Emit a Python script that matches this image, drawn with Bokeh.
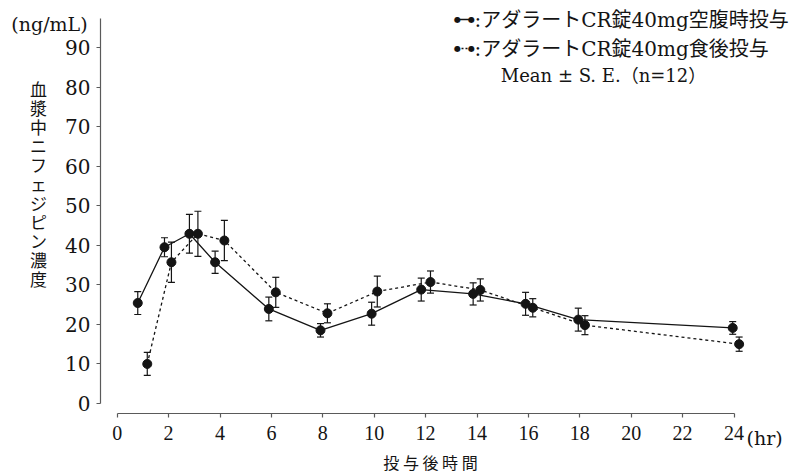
from bokeh.plotting import figure
from bokeh.models import (Range1d, FixedTicker, Whisker, ColumnDataSource, Label,
                          Arrow, TeeHead)
from bokeh.embed import file_html
from bokeh.resources import INLINE

# ---- data ----
fast_x = [0.80, 1.84, 2.81, 3.81, 5.90, 7.91, 9.90, 11.83, 13.85, 15.89, 17.94, 23.95]
fast_y = [25.4, 39.5, 42.9, 35.7, 23.9, 18.5, 22.7, 28.8, 27.7, 25.2, 21.2, 19.1]
fast_se = [2.9, 2.4, 4.9, 2.8, 3.0, 1.7, 2.9, 2.9, 2.8, 2.9, 2.9, 1.6]

fed_x = [1.17, 2.11, 3.14, 4.17, 6.17, 8.18, 10.12, 12.19, 14.13, 16.17, 18.20, 24.20]
fed_y = [10.0, 35.7, 42.9, 41.2, 28.1, 22.8, 28.3, 30.7, 28.7, 24.2, 19.8, 15.0]
fed_se = [2.9, 5.1, 5.7, 5.1, 3.8, 2.4, 3.9, 2.8, 2.8, 2.3, 2.4, 1.8]

x_ticks = [0, 2, 4, 6, 8, 10, 12, 14, 16, 18, 20, 22, 24]
y_ticks = [0, 10, 20, 30, 40, 50, 60, 70, 80, 90]

legend_fast = ":アダラートCR錠40mg空腹時投与"
legend_fed = ":アダラートCR錠40mg食後投与"
legend_note = "Mean ± S. E.（n=12）"
y_unit = "(ng/mL)"
y_title = "血漿中ニフェジピン濃度"
x_title = "投 与 後 時 間"
x_unit = "(hr)"

INK = "#141414"
AXIS = "#5a5a5a"
SERIF = "DejaVu Serif"
MIX = "DejaVu Serif, Noto Sans CJK JP"
CJK = "Noto Sans CJK JP"

W, H = 799, 475
# page-pixel geometry of the plot (x=0 h at 116.7px, 25.7 px per hour;
# y=0 at 403px, 3.956 px per ng/mL); frame covers the whole canvas
X0, XS = 116.7, 25.7
Y0, YS = 403.0, 3.956


def sx(px):
    return px


def sy(py):
    return H - py


p = figure(width=W, height=H, output_backend="svg", toolbar_location=None,
           x_range=Range1d(-X0 / XS, (W - X0) / XS),
           y_range=Range1d(-(H - Y0) / YS, Y0 / YS),
           min_border=0, min_border_left=0, min_border_right=0,
           min_border_top=0, min_border_bottom=0)
p.outline_line_color = None
p.xgrid.visible = False
p.ygrid.visible = False
p.background_fill_color = "white"
p.border_fill_color = "white"

for ax in (p.xaxis[0], p.yaxis[0]):
    ax.axis_line_color = AXIS
    ax.axis_line_width = 1.2
    ax.major_tick_line_color = AXIS
    ax.major_tick_line_width = 1.2
    ax.minor_tick_line_color = None
    ax.major_tick_in = 0
    ax.major_tick_out = 4
    ax.major_label_text_color = INK

p.xaxis.fixed_location = -(413 - Y0) / YS
p.xaxis.bounds = (0, 24)
p.xaxis.ticker = FixedTicker(ticks=x_ticks)
p.xaxis.major_label_text_font = "Liberation Serif"
p.xaxis.major_label_text_font_size = "20px"
p.xaxis.major_label_standoff = 8

p.yaxis.fixed_location = (100 - X0) / XS
p.yaxis.bounds = (0, 97.3)
p.yaxis.ticker = FixedTicker(ticks=y_ticks)
p.yaxis.major_label_text_font = SERIF
p.yaxis.major_label_text_font_size = "20px"
p.yaxis.major_label_standoff = 6

# ---- series ----
src_fast = ColumnDataSource(dict(x=fast_x, y=fast_y,
                                 lo=[m - s for m, s in zip(fast_y, fast_se)],
                                 hi=[m + s for m, s in zip(fast_y, fast_se)]))
src_fed = ColumnDataSource(dict(x=fed_x, y=fed_y,
                                lo=[m - s for m, s in zip(fed_y, fed_se)],
                                hi=[m + s for m, s in zip(fed_y, fed_se)]))

for src in (src_fast, src_fed):
    p.add_layout(Whisker(source=src, base="x", upper="hi", lower="lo",
                         line_color=INK, line_width=1.2,
                         upper_head=TeeHead(size=7, line_color=INK, line_width=1.2),
                         lower_head=TeeHead(size=7, line_color=INK, line_width=1.2)))

p.line("x", "y", source=src_fast, line_color=INK, line_width=1.3)
p.line("x", "y", source=src_fed, line_color=INK, line_width=1.3, line_dash="3 3")
p.scatter("x", "y", source=src_fast, size=9, fill_color=INK, line_color=INK)
p.scatter("x", "y", source=src_fed, size=9, fill_color=INK, line_color=INK)

# ---- legend (drawn as annotations) ----
for ly, dash in ((19, "solid"), (48, "2 2")):
    p.add_layout(Arrow(x_start=sx(457), y_start=sy(ly), x_end=sx(471), y_end=sy(ly),
                       start_units="screen", end_units="screen", start=None, end=None,
                       line_color=INK, line_width=1.3, line_dash=dash))
    for dx in (457, 471):
        p.add_layout(Label(x=sx(dx), y=sy(ly), x_units="screen", y_units="screen",
                           text="●", text_font="DejaVu Sans", text_font_size="8px",
                           text_color=INK, text_align="center", text_baseline="middle"))

p.add_layout(Label(x=sx(474), y=sy(19), x_units="screen", y_units="screen",
                   text=legend_fast, text_font=MIX, text_font_size="20px",
                   text_color=INK, text_align="left", text_baseline="middle"))
p.add_layout(Label(x=sx(474), y=sy(48), x_units="screen", y_units="screen",
                   text=legend_fed, text_font=MIX, text_font_size="20px",
                   text_color=INK, text_align="left", text_baseline="middle"))
p.add_layout(Label(x=sx(603), y=sy(75), x_units="screen", y_units="screen",
                   text=legend_note, text_font=MIX, text_font_size="18px",
                   text_color=INK, text_align="center", text_baseline="middle"))

# ---- axis texts ----
p.add_layout(Label(x=sx(49), y=sy(23), x_units="screen", y_units="screen",
                   text=y_unit, text_font=SERIF, text_font_size="19px",
                   text_color=INK, text_align="center", text_baseline="middle"))
p.add_layout(Label(x=sx(38), y=sy(183), x_units="screen", y_units="screen",
                   text="\n".join(y_title), text_font=CJK, text_font_size="17px",
                   text_line_height=0.76, text_color=INK, text_align="center",
                   text_baseline="middle"))
p.add_layout(Label(x=sx(746), y=sy(437), x_units="screen", y_units="screen",
                   text=x_unit, text_font=SERIF, text_font_size="19px",
                   text_color=INK, text_align="left", text_baseline="middle"))
p.add_layout(Label(x=sx(430), y=sy(461), x_units="screen", y_units="screen",
                   text=x_title, text_font=CJK, text_font_size="16px",
                   text_color=INK, text_align="center", text_baseline="middle"))

open("out.html", "w").write(file_html(p, INLINE))
